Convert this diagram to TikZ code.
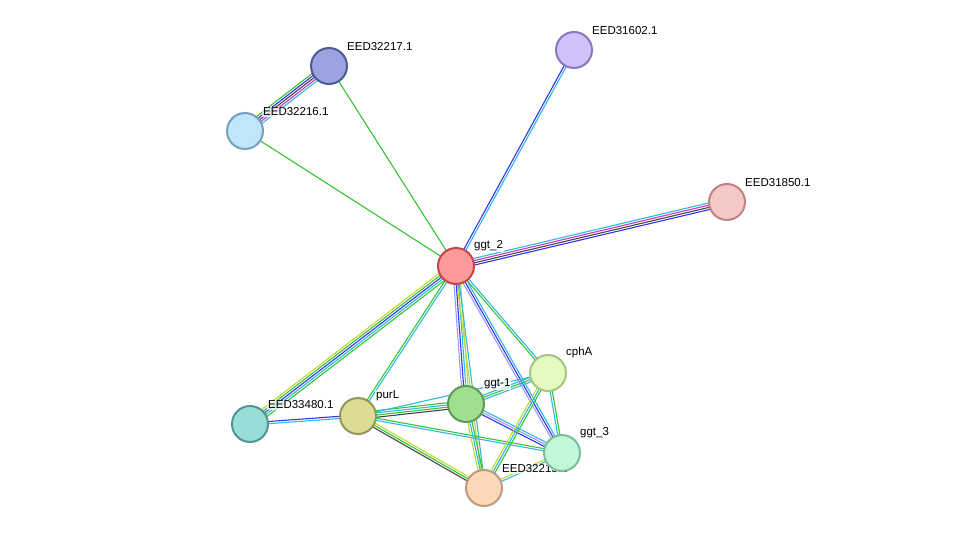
\documentclass[tikz,border=0pt]{standalone}
\usepackage{fontspec}
\setmainfont{Liberation Sans}
\usetikzlibrary{calc}

\definecolor{egreen}{HTML}{33C433}
\definecolor{ecyan}{HTML}{30B8E0}
\definecolor{eblue}{HTML}{3333EE}
\definecolor{emag}{HTML}{CC33CC}
\definecolor{eblack}{HTML}{444444}
\definecolor{elav}{HTML}{9999FF}
\definecolor{eyel}{HTML}{C0D830}

\tikzset{
  prot/.style={circle, draw, line width=2pt, minimum size=36pt, inner sep=0pt},
  lab/.style={font=\fontsize{11.5pt}{12pt}\selectfont, inner sep=1pt, fill=white, fill opacity=0.7, text opacity=1},
}

% several parallel coloured lines between two points
\newcommand{\medge}[4]{%
  \foreach \c [count=\i] in {#4} {
    \pgfmathsetmacro{\off}{(\i-(#3+1)/2)*2.2}
    \draw[\c, line width=1.1pt] ($(#1)!\off pt!90:(#2)$) -- ($(#2)!\off pt!-90:(#1)$);
  }%
}

\begin{document}
\begin{tikzpicture}[x=1pt, y=-1pt]
  \useasboundingbox (0,0) rectangle (976,533);

  \coordinate (ggt2) at (456,266);
  \coordinate (e32217) at (329,66);
  \coordinate (e32216) at (245,131);
  \coordinate (e31602) at (574,50);
  \coordinate (e31850) at (727,202);
  \coordinate (cphA) at (548,373);
  \coordinate (ggt1) at (466,404);
  \coordinate (purL) at (358,416);
  \coordinate (e33480) at (250,424);
  \coordinate (ggt3) at (562,453);
  \coordinate (e32215) at (484,488);

  % edges
  \medge{e32217}{e32216}{5}{egreen,eblue,eblack,emag,ecyan}
  \medge{e32217}{ggt2}{1}{egreen}
  \medge{e32216}{ggt2}{1}{egreen}
  \medge{e31602}{ggt2}{2}{eblue,ecyan}
  \medge{e31850}{ggt2}{4}{ecyan,emag,eblack,eblue}
  \medge{ggt2}{e33480}{5}{eyel,egreen,eblue,ecyan,egreen}
  \medge{ggt2}{purL}{2}{egreen,ecyan}
  \medge{ggt2}{ggt1}{4}{elav,eblue,ecyan,eyel}
  \medge{ggt2}{e32215}{2}{eyel,ecyan}
  \medge{ggt2}{cphA}{2}{egreen,ecyan}
  \medge{ggt2}{ggt3}{3}{elav,eblue,ecyan}
  \medge{purL}{e33480}{2}{eblue,ecyan}
  \medge{purL}{ggt1}{4}{eblack,egreen,ecyan,egreen}
  \medge{purL}{cphA}{1}{ecyan}
  \medge{purL}{ggt3}{2}{ecyan,egreen}
  \medge{purL}{e32215}{3}{eblack,egreen,eyel}
  \medge{ggt1}{cphA}{3}{ecyan,egreen,ecyan}
  \medge{ggt1}{ggt3}{3}{eblue,elav,ecyan}
  \medge{ggt1}{e32215}{3}{eyel,ecyan,egreen}
  \medge{cphA}{ggt3}{2}{ecyan,egreen}
  \medge{cphA}{e32215}{3}{eyel,ecyan,egreen}
  \medge{ggt3}{e32215}{2}{eyel,ecyan}

  % labels
  \node[lab, anchor=south west] (l32217) at ($(e32217)+(17,-14)$) {EED32217.1};
  \node[lab, anchor=south west] (l32216) at ($(e32216)+(17,-14)$) {EED32216.1};
  \node[lab, anchor=south west] (l31602) at ($(e31602)+(17,-14)$) {EED31602.1};
  \node[lab, anchor=south west] (l31850) at ($(e31850)+(17,-14)$) {EED31850.1};
  \node[lab, anchor=south west] (lggt2) at ($(ggt2)+(17,-14)$) {ggt\_2};
  \node[lab, anchor=south west] (lcphA) at ($(cphA)+(17,-14)$) {cphA};
  \node[lab, anchor=south west] (lggt1) at ($(ggt1)+(17,-14)$) {ggt-1};
  \node[lab, anchor=south west] (lpurL) at ($(purL)+(17,-14)$) {purL};
  \node[lab, anchor=south west] (l33480) at ($(e33480)+(17,-14)$) {EED33480.1};
  \node[lab, anchor=south west] (lggt3) at ($(ggt3)+(17,-14)$) {ggt\_3};
  \node[lab, anchor=south west] (l32215) at ($(e32215)+(17,-14)$) {EED32215.1};

  % nodes
  \node[prot, fill={rgb,255:red,255;green,154;blue,154}, draw={rgb,255:red,200;green,70;blue,70}] (nggt2) at (ggt2) {};
  \node[prot, fill={rgb,255:red,156;green,164;blue,224}, draw={rgb,255:red,80;green,90;blue,150}] (n32217) at (e32217) {};
  \node[prot, fill={rgb,255:red,192;green,230;blue,251}, draw={rgb,255:red,120;green,160;blue,190}] (n32216) at (e32216) {};
  \node[prot, fill={rgb,255:red,210;green,192;blue,248}, draw={rgb,255:red,140;green,120;blue,190}] (n31602) at (e31602) {};
  \node[prot, fill={rgb,255:red,245;green,200;blue,200}, draw={rgb,255:red,190;green,130;blue,135}] (n31850) at (e31850) {};
  \node[prot, fill={rgb,255:red,228;green,251;blue,192}, draw={rgb,255:red,170;green,195;blue,130}] (ncphA) at (cphA) {};
  \node[prot, fill={rgb,255:red,159;green,223;blue,144}, draw={rgb,255:red,95;green,155;blue,85}] (nggt1) at (ggt1) {};
  \node[prot, fill={rgb,255:red,220;green,220;blue,148}, draw={rgb,255:red,150;green,150;blue,90}] (npurL) at (purL) {};
  \node[prot, fill={rgb,255:red,152;green,222;blue,216}, draw={rgb,255:red,80;green,150;blue,145}] (n33480) at (e33480) {};
  \node[prot, fill={rgb,255:red,192;green,248;blue,216}, draw={rgb,255:red,125;green,190;blue,150}] (nggt3) at (ggt3) {};
  \node[prot, fill={rgb,255:red,253;green,216;blue,184}, draw={rgb,255:red,190;green,155;blue,125}] (n32215) at (e32215) {};
\end{tikzpicture}
\end{document}
